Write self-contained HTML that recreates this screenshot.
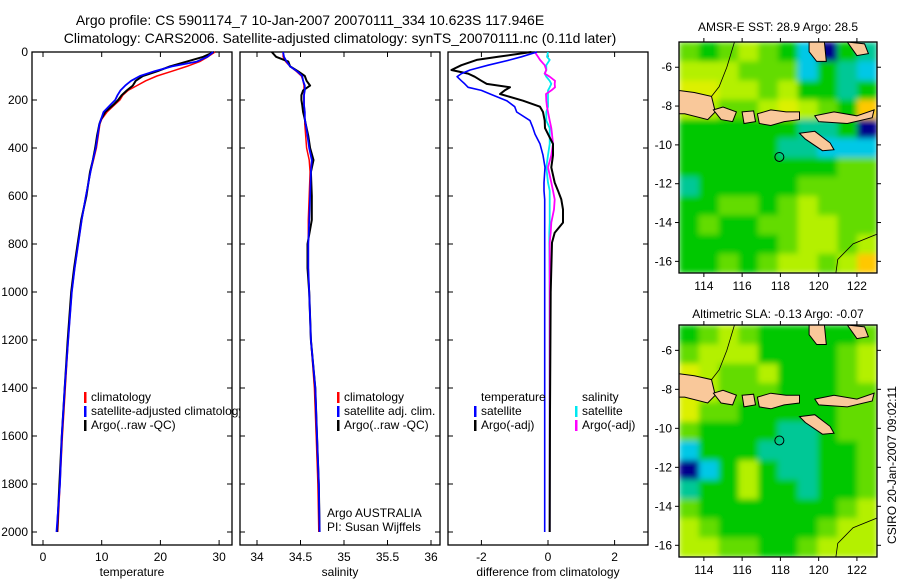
<!DOCTYPE html>
<html><head><meta charset="utf-8"><style>
html,body{margin:0;padding:0;background:#fff;}
svg{display:block;font-family:"Liberation Sans",sans-serif;}
</style></head><body>
<svg id="fig" width="900" height="580" viewBox="0 0 900 580">
<defs>
<clipPath id="clipLeg1"><rect x="0" y="0" width="240" height="580"/></clipPath>
<clipPath id="clipMap1"><rect x="679" y="42" width="198" height="231"/></clipPath>
<clipPath id="clipMap2"><rect x="679" y="325" width="198" height="232"/></clipPath>
<filter id="smooth" x="-0.1" y="-0.1" width="1.2" height="1.2"><feGaussianBlur stdDeviation="3" edgeMode="duplicate"/></filter>
</defs>
<text x="310" y="25" text-anchor="middle" font-size="14">Argo profile: CS 5901174_7 10-Jan-2007 20070111_334 10.623S 117.946E</text>
<text x="340" y="43" text-anchor="middle" font-size="14">Climatology: CARS2006. Satellite-adjusted climatology: synTS_20070111.nc (0.11d later)</text>
<text x="778" y="31" text-anchor="middle" font-size="12">AMSR-E SST: 28.9 Argo: 28.5</text>
<text x="778" y="318" text-anchor="middle" font-size="12">Altimetric SLA: -0.13 Argo: -0.07</text>
<text x="0" y="0" transform="translate(896,465) rotate(-90)" text-anchor="middle" font-size="12">CSIRO 20-Jan-2007 09:02:11</text>
<g id="content"></g>
</svg>
<script>
// ---- profile data ----
const depths = [0,20,40,60,80,100,120,140,160,180,200,220,250,280,300,350,400,450,500,600,700,800,900,1000,1200,1400,1600,1800,2000];
const tempClim = [29.3,28.1,26.7,24.5,22,19.4,17.5,16,14.5,13.6,13.1,12.2,10.9,10,9.7,9.4,9.1,8.6,8.1,7.3,6.6,6.0,5.4,4.9,4.3,3.8,3.3,2.9,2.5];
const tempSat = [29.0,28,26.2,22,19,16.5,15,14,13.2,12.7,12.3,11.5,10.3,9.9,9.6,9.3,9.0,8.5,8.1,7.3,6.6,6.0,5.4,4.9,4.3,3.7,3.2,2.9,2.3];
const tempArgo = [29.1,27.3,24.5,21.6,19.5,17,15.8,15.3,14.3,13.4,12.8,12,10.6,9.9,9.6,9.2,8.9,8.5,8.0,7.4,6.5,5.9,5.3,4.8,4.2,3.7,3.2,2.8,2.4];
const salClim = [34.30,34.30,34.33,34.38,34.45,34.51,34.53,34.54,34.54,34.54,34.54,34.54,34.55,34.55,34.55,34.56,34.57,34.60,34.61,34.60,34.59,34.59,34.59,34.60,34.62,34.66,34.68,34.70,34.71];
const salSat = [34.30,34.31,34.34,34.38,34.46,34.52,34.53,34.55,34.55,34.54,34.54,34.54,34.55,34.55,34.56,34.58,34.60,34.63,34.62,34.61,34.60,34.59,34.59,34.60,34.62,34.67,34.69,34.71,34.72];
const salArgo = [34.17,34.22,34.36,34.38,34.47,34.55,34.57,34.61,34.53,34.51,34.51,34.52,34.53,34.55,34.56,34.59,34.61,34.65,34.62,34.63,34.63,34.58,34.58,34.60,34.62,34.67,34.69,34.71,34.72];
const diffDepths = [0,20,33,55,75,90,103,120,133,147,160,175,203,228,250,286,317,342,383,430,481,544,578,614,656,711,753,794,1000,1500,2000];
const diffTempArgo = [-0.5,-1.5,-2.14,-2.6,-2.9,-2.4,-2.2,-2.0,-1.84,-1.14,-1.3,-1.44,-0.75,-0.24,-0.15,-0.1,-0.09,0.0,0.15,0.15,0.1,0.2,0.3,0.4,0.45,0.45,0.2,0.12,0.08,0.06,0.05];
const diffTempSat = [-0.33,-0.8,-1.14,-1.8,-2.34,-2.6,-2.73,-2.6,-2.5,-2.4,-2.0,-1.74,-1.24,-1.0,-0.94,-0.54,-0.45,-0.39,-0.24,-0.15,-0.09,-0.12,-0.12,-0.1,-0.1,-0.1,-0.1,-0.1,-0.1,-0.1,-0.1];
const diffSalArgo = [-0.4,-0.3,-0.24,-0.1,-0.05,-0.1,0.05,0.21,0.2,0.21,0.1,-0.06,-0.05,-0.03,0.0,0.05,0.1,0.12,0.15,0.1,0.0,0.1,0.15,0.2,0.18,0.1,0.08,0.05,0.05,0.05,0.05];
const diffSalSat = [0.0,-0.03,0.05,-0.05,-0.05,-0.1,-0.05,0.05,0.1,0.05,0.0,0.0,0.0,0.0,-0.05,-0.05,0.05,0.05,0.05,0.0,-0.05,0.0,0.05,0.05,0.05,0.05,0.04,0.04,0.05,0.05,0.05];
const depthTicks = [0,200,400,600,800,1000,1200,1400,1600,1800,2000];
const tempTicks = [0,10,20,30];
const salTicks = [34,34.5,35,35.5,36];
const salTickLabels = ["34","34.5","35","35.5","36"];
const diffTicks = [-2,0,2];
// ---- map data (palette indices) ----
const sstGrid = [
[5,4,5,6,5,4,2,0,4,3],[6,6,6,5,5,5,2,4,3,2],[7,7,6,6,5,6,4,4,3,4],[6,6,5,5,6,7,6,5,4,8],
[4,4,4,4,4,4,3,3,4,0],[4,4,4,4,4,3,3,2,2,2],[4,4,4,4,4,4,4,4,5,5],[3,4,4,4,4,4,5,5,5,5],
[4,4,5,5,4,5,6,5,5,5],[4,5,4,4,5,5,6,6,5,5],[4,4,4,4,4,5,6,6,5,6],[4,4,5,4,5,6,6,5,6,8]];
const slaGrid = [
[4,5,6,5,4,4,4,4,4,5],[5,6,6,6,4,4,4,4,5,6],[7,6,5,5,6,4,4,4,5,6],[7,6,5,5,5,4,4,4,5,5],
[7,5,5,4,4,4,4,4,5,5],[5,4,4,4,4,3,3,4,5,5],[2,4,4,4,3,3,3,4,4,5],[0,2,4,6,4,3,3,4,4,5],
[3,4,4,6,4,4,3,4,4,5],[5,4,4,4,4,4,4,4,5,6],[6,5,4,4,4,4,4,5,6,6],[6,6,5,5,4,4,5,6,6,6]];
const lonTicks = [114,116,118,120,122];
const latTicks = [-6,-8,-10,-12,-14,-16];
const islands = [
 [[112.7,-7.2],[113.5,-7.3],[114.4,-7.5],[114.6,-8.3],[114.2,-8.7],[113,-8.4],[112.7,-8.4]],
 [[114.5,-8.2],[115,-8.05],[115.7,-8.3],[115.5,-8.8],[114.9,-8.7]],
 [[116,-8.3],[116.6,-8.25],[116.7,-8.8],[116.1,-8.9]],
 [[116.8,-8.4],[117.5,-8.2],[118.3,-8.3],[119,-8.3],[119,-8.7],[118.2,-8.8],[117.5,-9],[116.9,-8.9]],
 [[119.8,-8.5],[120.8,-8.3],[122,-8.5],[122.9,-8.2],[122.8,-8.6],[121.5,-8.9],[120,-8.8]],
 [[119,-9.4],[119.8,-9.3],[120.6,-9.9],[120.8,-10.25],[120.2,-10.3],[119.3,-9.7]],
 [[119.5,-4.7],[120.3,-4.7],[120.4,-5.7],[119.9,-5.7],[119.5,-5.2]],
 [[121.5,-4.7],[122.4,-4.8],[122.6,-5.3],[122,-5.4]]];
const floatPos = [117.946,-10.623];
const palette = ["#00008c","#0060ff","#00c8e6","#00c896","#00c800","#64dc00","#b4f000","#dcf000","#ffc800","#e06000"];

const NS = "http://www.w3.org/2000/svg";
const root = document.getElementById("content");
function mk(tag, attrs, parent){const e=document.createElementNS(NS,tag);for(const k in attrs)e.setAttribute(k,attrs[k]);(parent||root).appendChild(e);return e;}
const yD = d => 52 + d*0.24;
const top0=52, bot0=545;

function panel(name, x0, x1, xf, ticks, labels, xlabel){
  const g = mk("g",{});
  
  
  const box = mk("rect",{x:x0,y:top0,width:x1-x0,height:bot0-top0,fill:"none",stroke:"#000","stroke-width":1.3},g);
  
  
  ticks.forEach((t,i)=>{
    const x=xf(t);
    mk("line",{x1:x,x2:x,y1:top0,y2:top0+5,stroke:"#000"},g);
    mk("line",{x1:x,x2:x,y1:bot0,y2:bot0-5,stroke:"#000"},g);
    const tl=mk("text",{x:x,y:561,"text-anchor":"middle","font-size":12},g);
    tl.textContent=labels[i];
    
    
  });
  depthTicks.forEach(d=>{
    const y=yD(d);
    mk("line",{x1:x0,x2:x0+5,y1:y,y2:y,stroke:"#000"},g);
    mk("line",{x1:x1,x2:x1-5,y1:y,y2:y,stroke:"#000"},g);
  });
  const xl=mk("text",{x:(x0+x1)/2,y:576,"text-anchor":"middle","font-size":12},g);
  xl.textContent=xlabel;
  
  
  return g;
}
function line(g, xs, ds, xf, color, w, name){
  const pts = xs.map((v,i)=>xf(v).toFixed(1)+","+yD(ds[i]).toFixed(1)).join(" ");
  const p = mk("polyline",{points:pts,fill:"none",stroke:color,"stroke-width":w,"stroke-linejoin":"round"},g);
  
  
}
function legend(g, x, y, color, text, name){
  if(color){mk("rect",{x:x,y:y-9,width:2.5,height:11,fill:color},g);}
  const t=mk("text",{x:x+7,y:y,"font-size":12},g); t.textContent=text;
  
  
  return t;
}

// Panel 1 temperature
const xT = v => 43 + v*5.87;
const p1 = panel("temperature-panel",32,232,xT,tempTicks,tempTicks.map(String),"temperature");
depthTicks.forEach(d=>{const t=mk("text",{x:28,y:yD(d)+4,"text-anchor":"end","font-size":12}); t.textContent=d;
 
 });
line(p1,tempClim,depths,xT,"#f00",1.5,"temp-climatology-line");
line(p1,tempArgo,depths,xT,"#000",2,"temp-argo-line");
line(p1,tempSat,depths,xT,"#00f",1.8,"temp-satellite-line");
const lg1 = mk("g",{"clip-path":"url(#clipLeg1)"},p1);
legend(lg1,84,401,"#f00","climatology","legend-climatology");
legend(lg1,84,415,"#00f","satellite-adjusted climatology","legend-satellite-adjusted");
legend(lg1,84,429,"#000","Argo(..raw -QC)","legend-argo");

// Panel 2 salinity
const xS = v => 257 + (v-34)*87;
const p2 = panel("salinity-panel",240,440,xS,salTicks,salTickLabels,"salinity");
line(p2,salClim,depths,xS,"#f00",1.5,"sal-climatology-line");
line(p2,salArgo,depths,xS,"#000",2,"sal-argo-line");
line(p2,salSat,depths,xS,"#00f",1.8,"sal-satellite-line");
legend(p2,337,401,"#f00","climatology","legend-climatology");
legend(p2,337,415,"#00f","satellite adj. clim.","legend-satellite-adj");
legend(p2,337,429,"#000","Argo(..raw -QC)","legend-argo");
legend(p2,320,517,null,"Argo AUSTRALIA","argo-australia-label");
legend(p2,320,531,null,"PI: Susan Wijffels","pi-label");

// Panel 3 differences
const xDf = v => 548 + v*33.3;
const p3 = panel("difference-panel",448,648,xDf,diffTicks,diffTicks.map(String),"difference from climatology");
line(p3,diffSalSat,diffDepths,xDf,"#00e8f0",1.8,"diff-sal-satellite-line");
line(p3,diffSalArgo,diffDepths,xDf,"#f0f",1.8,"diff-sal-argo-line");
line(p3,diffTempArgo,diffDepths,xDf,"#000",2,"diff-temp-argo-line");
line(p3,diffTempSat,diffDepths,xDf,"#00f",1.6,"diff-temp-satellite-line");
legend(p3,474,401,null,"temperature","legend-temperature-header");
legend(p3,474,415,"#00f","satellite","legend-temp-satellite");
legend(p3,474,429,"#000","Argo(-adj)","legend-temp-argo");
legend(p3,575,401,null,"salinity","legend-salinity-header");
legend(p3,575,415,"#00e8f0","satellite","legend-sal-satellite");
legend(p3,575,429,"#f0f","Argo(-adj)","legend-sal-argo");

// Maps
function drawMap(name, grid, top, bottom, clipId){
  const L=679,R=877,lon0=112.7,lon1=123.05,lat0=-4.7,lat1=-16.6;
  const lx = lo => L + (lo-lon0)/(lon1-lon0)*(R-L);
  const ly = la => top + (la-lat0)/(lat1-lat0)*(bottom-top);
  const g = mk("g",{});
  
  
  const clipG = mk("g",{"clip-path":"url(#"+clipId+")"},g);
  const cells = mk("g",{filter:"url(#smooth)"},clipG);
  const rows=grid.length, cols=grid[0].length;
  const cw=(R-L)/cols, ch=(bottom-top)/rows;
  grid.forEach((row,r)=>row.forEach((v,c)=>{
    const cell=mk("rect",{x:L+c*cw,y:top+r*ch,width:cw+0.5,height:ch+0.5,fill:palette[v]},cells);
    
    
  }));
  islands.forEach(poly=>{
    const s=mk("polygon",{points:poly.map(p=>lx(p[0]).toFixed(1)+","+ly(p[1]).toFixed(1)).join(" "),fill:"#f9c89a",stroke:"#000","stroke-width":1},clipG);
    
    
  });
  mk("polyline",{points:[[123.05,-14.6],[121.8,-15.1],[121,-15.9],[120.9,-16.6]].map(p=>lx(p[0])+","+ly(p[1])).join(" "),fill:"none",stroke:"#000","stroke-width":0.8},clipG);
  mk("polyline",{points:[[115.6,-4.7],[115.2,-6],[114.8,-7],[114.4,-7.5]].map(p=>lx(p[0])+","+ly(p[1])).join(" "),fill:"none",stroke:"#000","stroke-width":0.8},clipG);
  const c=mk("circle",{cx:lx(floatPos[0]),cy:ly(floatPos[1]),r:4.5,fill:"none",stroke:"#000","stroke-width":1},g);
  
  
  mk("rect",{x:L,y:top,width:R-L,height:bottom-top,fill:"none",stroke:"#000","stroke-width":1.3},g);
  lonTicks.forEach(lo=>{const x=lx(lo);
    mk("line",{x1:x,x2:x,y1:top,y2:top-4,stroke:"#000"},g);
    mk("line",{x1:x,x2:x,y1:bottom,y2:bottom+4,stroke:"#000"},g);
    const t=mk("text",{x:x,y:bottom+17,"text-anchor":"middle","font-size":12},g);t.textContent=lo;
    
    });
  latTicks.forEach(la=>{const y=ly(la);
    mk("line",{x1:L,x2:L-4,y1:y,y2:y,stroke:"#000"},g);
    mk("line",{x1:R,x2:R+4,y1:y,y2:y,stroke:"#000"},g);
    const t=mk("text",{x:L-7,y:y+4,"text-anchor":"end","font-size":12},g);t.textContent=la;
    
    });
}
drawMap("sst-map",sstGrid,42,273,"clipMap1");
drawMap("sla-map",slaGrid,325,557,"clipMap2");
</script>
</body></html>
